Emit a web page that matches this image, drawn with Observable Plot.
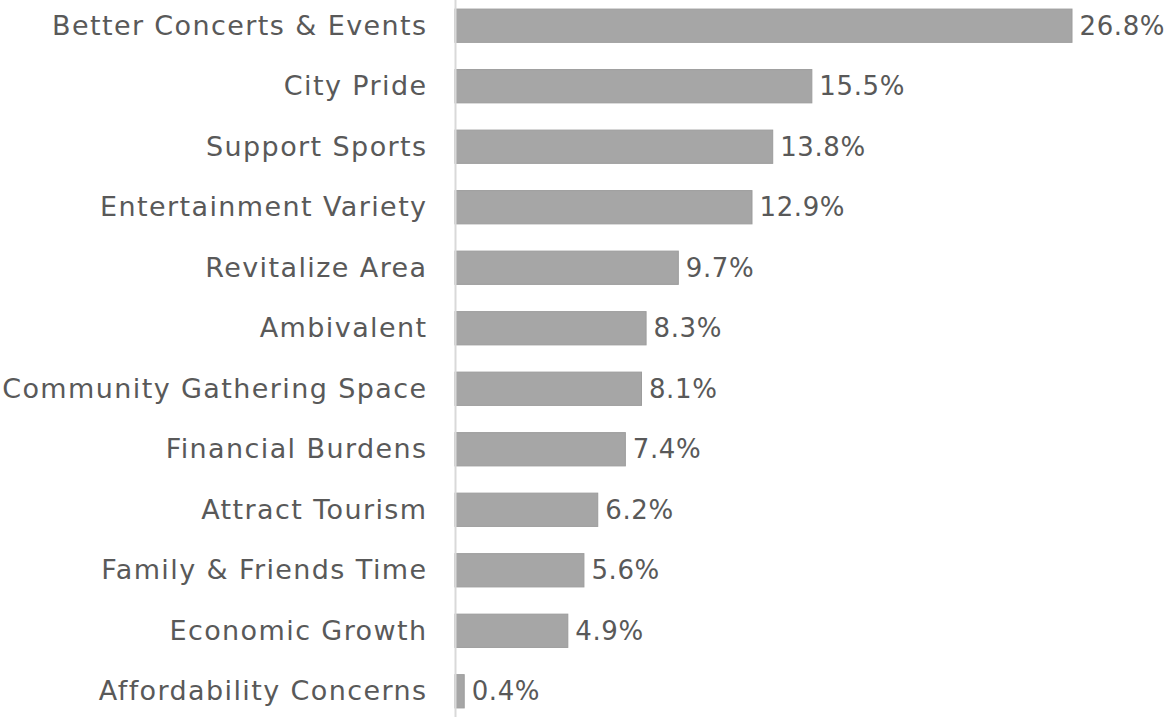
<!DOCTYPE html>
<html>
<head>
<meta charset="utf-8">
<script src="https://cdn.jsdelivr.net/npm/d3@7"></script>
<script src="https://cdn.jsdelivr.net/npm/@observablehq/plot@0.6"></script>
<style>
  html, body { margin: 0; padding: 0; background: #fff; }
  #chart svg { display: block; }
  #chart svg g[aria-label="y-axis tick label"] text { letter-spacing: 1.4px; }
  #chart svg g[aria-label="text"] text { letter-spacing: 0.6px; }
</style>
</head>
<body>
<div id="chart"></div>
<script>
const categories = [
  "Better Concerts & Events",
  "City Pride",
  "Support Sports",
  "Entertainment Variety",
  "Revitalize Area",
  "Ambivalent",
  "Community Gathering Space",
  "Financial Burdens",
  "Attract Tourism",
  "Family & Friends Time",
  "Economic Growth",
  "Affordability Concerns"
];
const values = [26.8, 15.5, 13.8, 12.9, 9.7, 8.3, 8.1, 7.4, 6.2, 5.6, 4.9, 0.4];

const data = categories.map((c, i) => ({category: c, value: values[i]}));

const chart = Plot.plot({
  width: 1166,
  height: 717,
  marginLeft: 455,
  marginRight: 94,
  marginTop: 0,
  marginBottom: 0,
  style: {fontFamily: "DejaVu Sans", fontSize: "26px", color: "#595959", background: "#fff"},
  x: {domain: [0, 26.8], axis: null},
  y: {domain: categories, paddingInner: 0.45, paddingOuter: 0.15, round: false, label: null},
  marks: [
    Plot.barX(data, {x: "value", y: "category", fill: "#a6a6a6", stroke: "#9c9c9c", strokeWidth: 1}),
    Plot.ruleX([0], {stroke: "#d9d9d9", strokeWidth: 2}),
    Plot.axisY({tickSize: 0, tickPadding: 28, fontSize: 27, fill: "#595959", label: null}),
    Plot.text(data, {x: "value", y: "category", text: d => d.value.toFixed(1) + "%", textAnchor: "start", dx: 7, fontSize: 26, fill: "#595959"})
  ]
});
document.getElementById("chart").appendChild(chart);
</script>
</body>
</html>
